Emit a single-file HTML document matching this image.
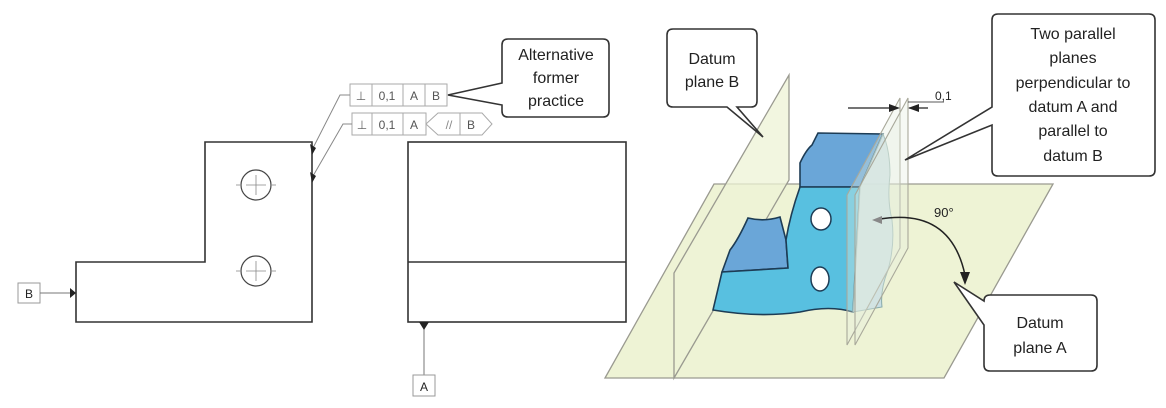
<!DOCTYPE html>
<html><head><meta charset="utf-8"><style>
body{margin:0;background:#fff}
svg{display:block}
text{font-family:"Liberation Sans",sans-serif;fill:#222}
</style></head><body>
<svg width="1166" height="408" viewBox="0 0 1166 408" xmlns="http://www.w3.org/2000/svg">
<g fill="none" stroke="#333" stroke-width="1.6">
<path d="M76,262 H205 V142 H312 V322 H76 Z"/>
<rect x="408" y="142" width="218" height="180"/>
<line x1="408" y1="262" x2="626" y2="262"/>
</g>
<g fill="none" stroke="#444" stroke-width="1.2">
<circle cx="256" cy="185" r="15"/><circle cx="256" cy="271" r="15"/>
</g>
<g stroke="#888" stroke-width="0.8">
<line x1="246" y1="185" x2="266" y2="185"/><line x1="256" y1="175" x2="256" y2="195"/>
<line x1="236" y1="185" x2="240" y2="185"/><line x1="272" y1="185" x2="276" y2="185"/>
<line x1="246" y1="271" x2="266" y2="271"/><line x1="256" y1="261" x2="256" y2="281"/>
<line x1="236" y1="271" x2="240" y2="271"/><line x1="272" y1="271" x2="276" y2="271"/>
</g>
<rect x="18" y="283" width="22" height="20" fill="#fff" stroke="#999"/>
<text x="29" y="298" font-size="12" text-anchor="middle">B</text>
<line x1="40" y1="293" x2="72" y2="293" stroke="#777"/>
<path d="M70,288 L76,293 L70,298 Z" fill="#222"/>
<line x1="424" y1="322" x2="424" y2="375" stroke="#777"/>
<path d="M419,322 L429,322 L424,330 Z" fill="#222"/>
<rect x="413" y="375" width="22" height="21" fill="#fff" stroke="#999"/>
<text x="424" y="391" font-size="12" text-anchor="middle">A</text>
<g fill="#fff" stroke="#aaa" stroke-width="1">
<rect x="350" y="84" width="97" height="22"/>
<line x1="372" y1="84" x2="372" y2="106"/><line x1="403" y1="84" x2="403" y2="106"/><line x1="425" y1="84" x2="425" y2="106"/>
<rect x="352" y="113" width="74" height="22"/>
<line x1="372" y1="113" x2="372" y2="135"/><line x1="403" y1="113" x2="403" y2="135"/>
<path d="M426,124 L438,113 H482 L492,124 L482,135 H438 Z"/>
<line x1="460" y1="113" x2="460" y2="135"/>
</g>
<g font-size="12" text-anchor="middle">
<text x="361" y="100" style="fill:#666">⊥</text><text x="387" y="100" style="fill:#555">0,1</text><text x="414" y="100" style="fill:#555">A</text><text x="436" y="100" style="fill:#555">B</text>
<text x="362" y="129" style="fill:#666">⊥</text><text x="387" y="129" style="fill:#555">0,1</text><text x="414" y="129" style="fill:#555">A</text><text x="449" y="129" style="fill:#888">//</text><text x="471" y="129" style="fill:#555">B</text>
</g>
<g stroke="#888" stroke-width="1" fill="none">
<polyline points="350,95 340,95 313,148"/>
<polyline points="352,124 343,124 313,176"/>
</g>
<path d="M310,144 L316,148 L312,155 Z" fill="#222"/>
<path d="M310,172 L316,176 L312,183 Z" fill="#222"/>
<path d="M508,39 H603 Q609,39 609,45 V111 Q609,117 603,117 H508 Q502,117 502,111 V105 L448,95 L502,83 V45 Q502,39 508,39 Z" fill="#fff" stroke="#333" stroke-width="1.6"/>
<g font-size="16" text-anchor="middle"><text x="556" y="60">Alternative</text><text x="556" y="83">former</text><text x="556" y="106">practice</text></g>

<path d="M714,184 H1053 L944,378 H605 Z" fill="#eef3d5" stroke="#9a9a90" stroke-width="1.3"/>
<path d="M674,378 L789,180 V75 L674,273 Z" fill="#eef3d5" fill-opacity="0.75" stroke="#9a9a90" stroke-width="1.3"/>
<path d="M800,187 L800,163 Q806,150 812,145 L818,133 L883,134 L860,187 Z" fill="#6aa6d8" stroke="#1d3c55" stroke-width="1.6"/>
<path d="M722,272 L730,250 Q738,240 748,218 Q764,222 780,217 L786,240 L788,268 Z" fill="#6aa6d8" stroke="#1d3c55" stroke-width="1.6"/>
<path d="M800,187 L860,187 L853,312 Q830,305 800,312 Q760,318 713,310 L722,272 L788,268 L786,240 Q790,215 800,187 Z" fill="#58c0e0" stroke="#1d3c55" stroke-width="1.6"/>
<path d="M860,187 L883,134 Q890,150 890,175 Q887,200 892,220 Q895,245 888,270 Q880,290 882,307 L853,312 Z" fill="#c3dce6" fill-opacity="0.9" stroke="#8aa" stroke-width="1"/>
<ellipse cx="821" cy="219" rx="10" ry="11" fill="#fff" stroke="#1d3c55" stroke-width="1.5"/>
<ellipse cx="820" cy="279" rx="9" ry="12" fill="#fff" stroke="#1d3c55" stroke-width="1.5"/>
<g fill="#e6efe0" fill-opacity="0.35" stroke="#a8a89a" stroke-width="1.1">
<path d="M847,345 L900,248 V98 L847,195 Z"/>
<path d="M855,345 L908,248 V98 L855,195 Z"/>
</g>
<g stroke="#222" stroke-width="1.3">
<line x1="848" y1="108" x2="893" y2="108"/><line x1="928" y1="108" x2="909" y2="108"/>
<line x1="908" y1="102" x2="944" y2="102" stroke-width="0.8"/>
</g>
<path d="M900,108 L889,104 L889,112 Z" fill="#222"/><path d="M908,108 L919,104 L919,112 Z" fill="#222"/>
<text x="935" y="100" font-size="12">0,1</text>
<path d="M875,220 Q950,205 965,275" fill="none" stroke="#222" stroke-width="1.5"/>
<path d="M965,285 L960,272 L970,272 Z" fill="#222"/>
<path d="M872,220 L882,216 L882,224 Z" fill="#888"/>
<text x="934" y="217" font-size="13">90°</text>
<path d="M673,29 H751 Q757,29 757,35 V101 Q757,107 751,107 H737 L763,137 L727,107 H673 Q667,107 667,101 V35 Q667,29 673,29 Z" fill="#fff" stroke="#333" stroke-width="1.6"/>
<g font-size="16" text-anchor="middle"><text x="712" y="64">Datum</text><text x="712" y="87">plane B</text></g>
<path d="M998,14 H1149 Q1155,14 1155,20 V170 Q1155,176 1149,176 H998 Q992,176 992,170 V125 L905,160 L992,107 V20 Q992,14 998,14 Z" fill="#fff" stroke="#333" stroke-width="1.6"/>
<g font-size="16" text-anchor="middle"><text x="1073" y="39">Two parallel</text><text x="1073" y="63">planes</text><text x="1073" y="88">perpendicular to</text><text x="1073" y="112">datum A and</text><text x="1073" y="136">parallel to</text><text x="1073" y="161">datum B</text></g>
<path d="M990,295 H1091 Q1097,295 1097,301 V365 Q1097,371 1091,371 H990 Q984,371 984,365 V325 L954,282 L984,301 Q984,295 990,295 Z" fill="#fff" stroke="#333" stroke-width="1.6"/>
<g font-size="16" text-anchor="middle"><text x="1040" y="328">Datum</text><text x="1040" y="353">plane A</text></g>
</svg>
</body></html>
